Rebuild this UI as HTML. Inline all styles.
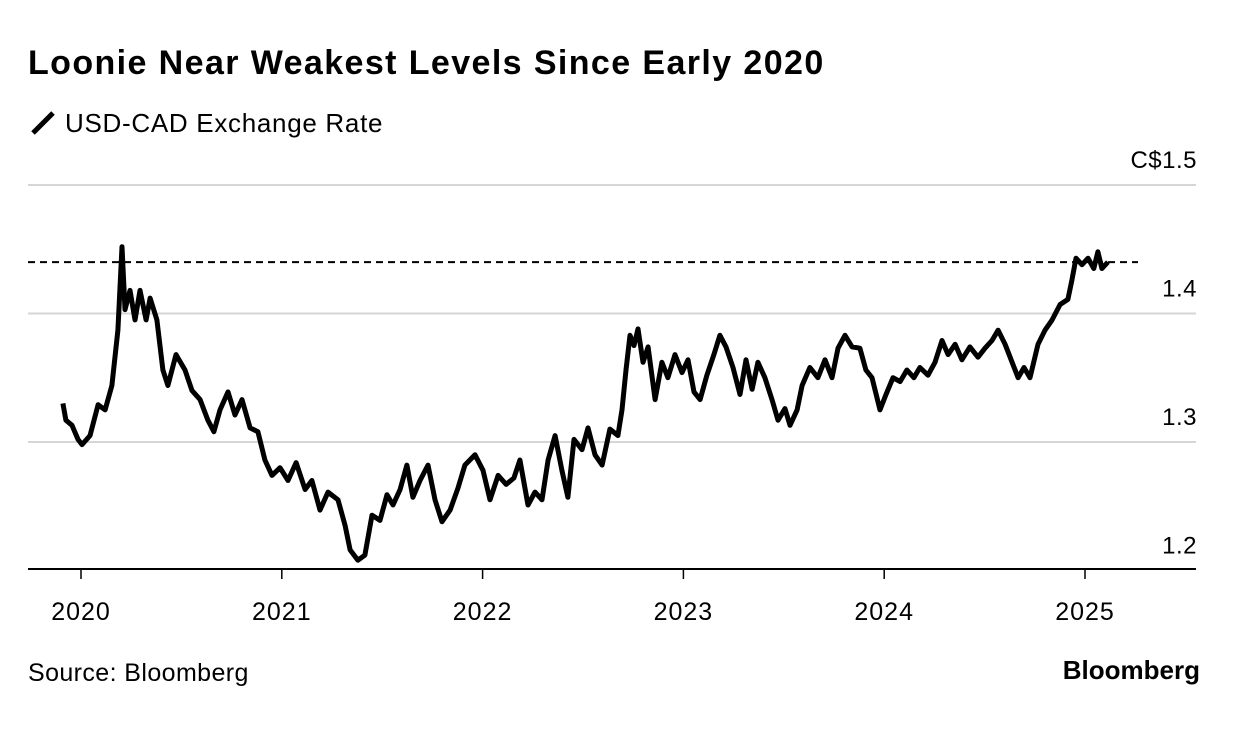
<!DOCTYPE html>
<html><head><meta charset="utf-8"><style>
body{margin:0;background:#fff;font-family:"Liberation Sans",sans-serif;}
svg text{font-family:"Liberation Sans",sans-serif;fill:#000;}
</style></head><body>
<svg width="1240" height="730">
<text x="28" y="74" font-size="34" font-weight="bold" letter-spacing="1.4">Loonie Near Weakest Levels Since Early 2020</text>
<line x1="33" y1="133" x2="53" y2="113" stroke="#000" stroke-width="5"/>
<text x="65" y="132" font-size="26" letter-spacing="0.7">USD-CAD Exchange Rate</text>
<g id="grid"></g><g id="xaxis"></g>
<path id="series" fill="none" stroke="#000" stroke-width="5" stroke-linejoin="round"/>
<line id="ref" stroke="#000" stroke-width="2" stroke-dasharray="7,5"/>
<text x="28" y="681" font-size="25" letter-spacing="0.4">Source: Bloomberg</text>
<text x="1200" y="679" font-size="26" font-weight="bold" text-anchor="end">Bloomberg</text>
</svg>
<script>
const dates=[2019.910,2019.925,2019.955,2019.985,2020.005,2020.045,2020.085,2020.120,2020.154,2020.184,2020.204,2020.219,2020.244,2020.269,2020.294,2020.324,2020.344,2020.378,2020.408,2020.433,2020.473,2020.518,2020.553,2020.593,2020.632,2020.662,2020.692,2020.732,2020.767,2020.802,2020.842,2020.881,2020.916,2020.951,2020.991,2021.031,2021.071,2021.116,2021.150,2021.190,2021.230,2021.280,2021.315,2021.340,2021.379,2021.414,2021.449,2021.489,2021.524,2021.554,2021.589,2021.623,2021.653,2021.688,2021.728,2021.763,2021.798,2021.838,2021.877,2021.912,2021.962,2022.002,2022.037,2022.077,2022.117,2022.156,2022.186,2022.226,2022.261,2022.296,2022.326,2022.361,2022.395,2022.425,2022.455,2022.495,2022.525,2022.560,2022.595,2022.634,2022.674,2022.694,2022.714,2022.734,2022.754,2022.774,2022.799,2022.824,2022.859,2022.893,2022.923,2022.958,2022.993,2023.023,2023.053,2023.083,2023.117,2023.152,2023.182,2023.212,2023.247,2023.282,2023.312,2023.342,2023.371,2023.406,2023.441,2023.471,2023.506,2023.531,2023.566,2023.591,2023.630,2023.670,2023.705,2023.740,2023.770,2023.805,2023.840,2023.879,2023.909,2023.939,2023.979,2024.009,2024.044,2024.079,2024.113,2024.148,2024.178,2024.218,2024.253,2024.288,2024.318,2024.353,2024.387,2024.427,2024.467,2024.502,2024.537,2024.567,2024.602,2024.637,2024.667,2024.696,2024.726,2024.766,2024.801,2024.836,2024.876,2024.915,2024.935,2024.955,2024.985,2025.015,2025.044,2025.064,2025.084,2025.114];
const rates=[1.330,1.317,1.313,1.302,1.298,1.305,1.329,1.325,1.344,1.387,1.452,1.403,1.418,1.395,1.418,1.395,1.412,1.395,1.356,1.344,1.368,1.356,1.340,1.333,1.317,1.308,1.325,1.339,1.321,1.333,1.311,1.308,1.286,1.274,1.280,1.270,1.284,1.263,1.270,1.247,1.261,1.255,1.235,1.216,1.208,1.212,1.243,1.239,1.259,1.251,1.263,1.282,1.257,1.270,1.282,1.255,1.238,1.247,1.264,1.282,1.290,1.278,1.255,1.274,1.267,1.272,1.286,1.251,1.261,1.255,1.286,1.305,1.278,1.257,1.302,1.294,1.311,1.290,1.282,1.310,1.305,1.325,1.356,1.383,1.375,1.388,1.362,1.374,1.333,1.362,1.350,1.368,1.354,1.364,1.339,1.333,1.352,1.368,1.383,1.374,1.358,1.337,1.364,1.341,1.362,1.350,1.333,1.317,1.326,1.313,1.325,1.344,1.358,1.350,1.364,1.350,1.373,1.383,1.374,1.373,1.356,1.350,1.325,1.337,1.350,1.347,1.356,1.350,1.358,1.352,1.362,1.379,1.368,1.376,1.364,1.374,1.366,1.373,1.379,1.387,1.376,1.362,1.350,1.358,1.350,1.376,1.387,1.395,1.407,1.411,1.426,1.443,1.438,1.443,1.435,1.448,1.435,1.440];
const yTicks=[1.2,1.3,1.4,1.5];
const yTickLabels=["1.2","1.3","1.4","C$1.5"];
const xTicks=[2020,2021,2022,2023,2024,2025];
const refValue=1.440;
const X=t=>81+(t-2020)*200.8;
const Y=v=>185+(1.5-v)*1285;
const NS="http://www.w3.org/2000/svg";
function mk(tag,attrs,parent){const e=document.createElementNS(NS,tag);for(const k in attrs)e.setAttribute(k,attrs[k]);parent.appendChild(e);return e;}
const grid=document.getElementById('grid'),xa=document.getElementById('xaxis');
yTicks.forEach((v,i)=>{
  if(v>1.2){const l=mk('line',{x1:28,x2:1196,y1:Y(v),y2:Y(v),stroke:'#d6d6d6','stroke-width':2},grid);
  
  }
  const t=mk('text',{x:1197,y:Y(v)-17,'font-size':24,'text-anchor':'end','letter-spacing':0.5},grid);
  t.textContent=yTickLabels[i];
  
  
});
const ax=mk('line',{x1:28,x2:1196,y1:569,y2:569,stroke:'#000','stroke-width':2},xa);


xTicks.forEach(y=>{
  const tk=mk('line',{x1:X(y),x2:X(y),y1:569,y2:579,stroke:'#000','stroke-width':1.5},xa);
  
  
  const t=mk('text',{x:X(y),y:620,'font-size':25,'text-anchor':'middle','letter-spacing':1},xa);
  t.textContent=y;
  
  
});
document.getElementById('series').setAttribute('d',dates.map((d,i)=>(i?'L':'M')+X(d).toFixed(1)+','+Y(rates[i]).toFixed(1)).join(''));
const r=document.getElementById('ref');
r.setAttribute('x1',28);r.setAttribute('x2',1138);r.setAttribute('y1',Y(refValue));r.setAttribute('y2',Y(refValue));
</script>
</body></html>
